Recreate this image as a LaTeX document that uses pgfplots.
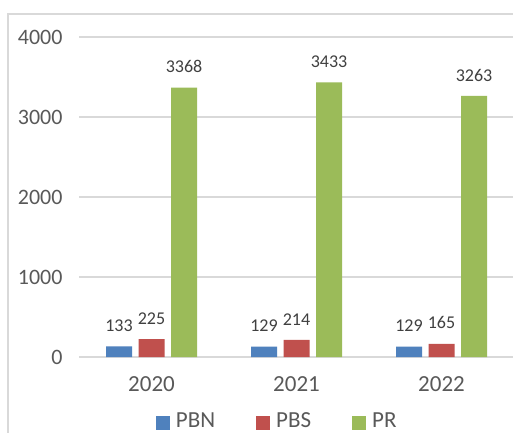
\documentclass[border=0pt]{standalone}
\usepackage{pgfplots}
\pgfplotsset{compat=1.18}
\usepackage{fontspec}
\setmainfont{Carlito}
\definecolor{cPBN}{HTML}{4F81BD}
\definecolor{cPBS}{HTML}{C0504D}
\definecolor{cPR}{HTML}{9BBB59}
\definecolor{gridc}{HTML}{D9D9D9}
\definecolor{txt}{HTML}{595959}
\definecolor{lbl}{HTML}{404040}
\begin{document}
\begin{tikzpicture}[x=1pt,y=1pt]
\useasboundingbox (0,0) rectangle (513,432);
\clip (0,0) rectangle (513,432);
\fill[white] (0,0) rectangle (513,432);
\draw[gridc, line width=1.5pt] (8,-20) -- (8,418) -- (540,418);
\begin{axis}[
  at={(79pt,75pt)}, anchor=south west,
  scale only axis, width=435pt, height=320pt,
  xmin=-0.5, xmax=2.5, ymin=0, ymax=4000,
  ybar=6.5pt, bar width=26pt,
  xtick={0,1,2}, xticklabels={2020,2021,2022},
  ytick={0,1000,2000,3000,4000},
  axis line style={draw=none},
  major tick length=0pt,
  ymajorgrids, grid style={gridc, line width=1.5pt},
  /pgf/number format/1000 sep={},
  /pgf/number format/assume math mode=true,
  xticklabel style={font=\fontsize{23}{27}\selectfont, text=txt, yshift=-16pt},
  yticklabel style={font=\fontsize{22}{26}\selectfont, text=txt, xshift=-13pt},
  nodes near coords,
  every node near coord/.append style={font=\fontsize{18}{22}\selectfont, text=lbl, inner sep=0pt, anchor=south, yshift=14.5pt},
  legend columns=3,
  legend image code/.code={\fill[#1] (0pt,-9pt) rectangle (14pt,5pt);},
  legend style={at={(0.177,-0.1985)}, anchor=west, draw=none, fill=none,
    inner sep=0pt, outer sep=0pt,
    font=\fontsize{23}{27}\selectfont, text=txt,
    nodes={inner sep=3pt},
    /tikz/every odd column/.append style={column sep=3pt},
    /tikz/every even column/.append style={column sep=38pt}},
]
\addplot[fill=cPBN, draw=none] coordinates {(0,133) (1,129) (2,129)};
\addplot[fill=cPBS, draw=none] coordinates {(0,225) (1,214) (2,165)};
\addplot[fill=cPR, draw=none] coordinates {(0,3368) (1,3433) (2,3263)};
\legend{PBN,PBS,PR}
\end{axis}
\end{tikzpicture}
\end{document}
